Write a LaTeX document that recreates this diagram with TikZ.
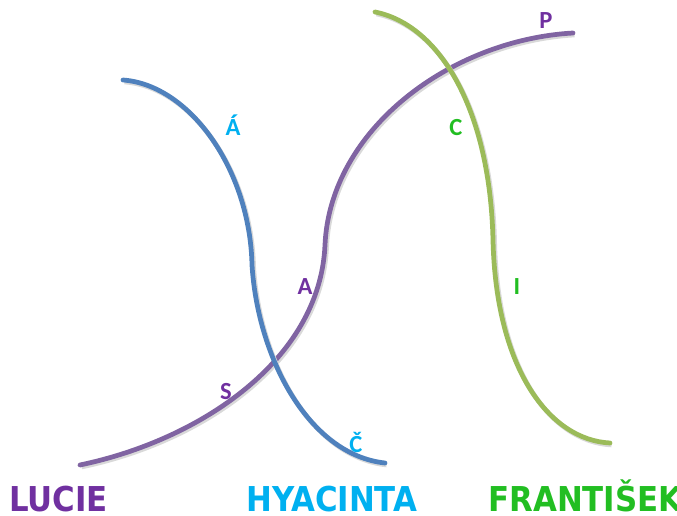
\documentclass[tikz,border=0pt]{standalone}
\usepackage{fontspec}
\setmainfont{Carlito}
\newfontfamily\namefont{DejaVu Sans Condensed}
\usetikzlibrary{positioning}
\definecolor{lucieline}{RGB}{128,100,162}
\definecolor{hyaline}{RGB}{79,129,189}
\definecolor{frantaline}{RGB}{155,187,89}
\definecolor{luciefont}{RGB}{112,48,160}
\definecolor{hyafont}{RGB}{0,176,240}
\definecolor{frantafont}{RGB}{34,190,34}

\begin{document}
\begin{tikzpicture}[x=0.02cm, y=-0.02cm,
  curve/.style={line width=2.7pt, line cap=round,
    preaction={draw=black!15, line width=2.7pt, transform canvas={xshift=0.9pt, yshift=-1.1pt}}},
  letter/.style={anchor=base, inner sep=0pt, font=\bfseries\fontsize{14}{14}\selectfont},
  namelabel/.style={anchor=base west, inner sep=0pt, font=\namefont\bfseries\fontsize{19.5}{20}\selectfont}
]
\useasboundingbox (0,0) rectangle (677,516);
% the three curves
\draw[curve, lucieline] (80,465) .. controls (200,440) and (320,360) .. (325,245)
  .. controls (330,130) and (450,40) .. (573,33);
\draw[curve, hyaline] (123,80) .. controls (190,85) and (250,170) .. (252,265)
  .. controls (258,360) and (310,455) .. (385,463);
\draw[curve, frantaline] (375,12) .. controls (440,25) and (490,110) .. (493,240)
  .. controls (496,370) and (550,440) .. (610,443);
% letters along the curves
\node[letter, luciefont] (p) at (546,29) {P};
\node[letter, luciefont] (a) at (305,295) {A};
\node[letter, luciefont] (s) at (226,400) {S};
\node[letter, hyafont] (aacute) at (233,136) {Á};
\node[letter, hyafont] (ccaron) at (356,453) {Č};
\node[letter, frantafont] (c) at (456,136) {C};
\node[letter, frantafont] (i) at (517,295) {I};
% names
\node[namelabel, luciefont] (lucie) at (9,512) {LUCIE};
\node[namelabel, hyafont] (hyacinta) at (246,512) {HYACINTA};
\node[namelabel, frantafont] (frantisek) at (488,512) {FRANTIŠEK};
\end{tikzpicture}
\end{document}
